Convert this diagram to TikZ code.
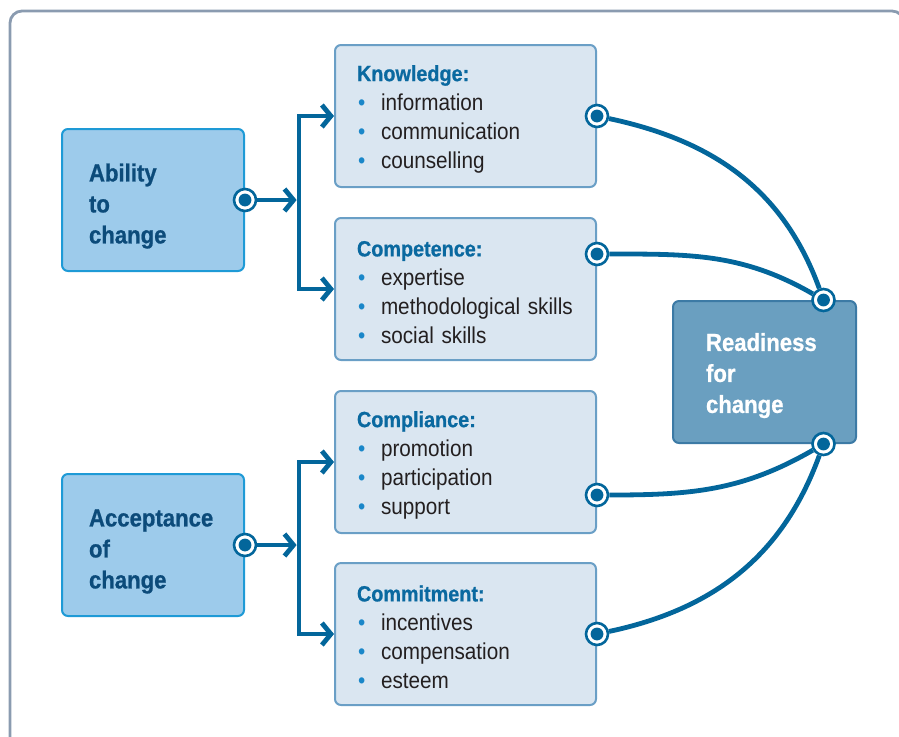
\documentclass[tikz,border=0pt]{standalone}
\usepackage{fontspec}
\setmainfont{Liberation Sans}[FakeStretch=0.9, BoldFeatures={FakeBold=0.8}]
\usetikzlibrary{positioning,arrows.meta}

\definecolor{framec}{RGB}{138,155,176}
\definecolor{linec}{RGB}{3,102,155}
\definecolor{leftfill}{RGB}{157,203,235}
\definecolor{leftdraw}{RGB}{30,154,214}
\definecolor{lefttext}{RGB}{12,75,122}
\definecolor{midfill}{RGB}{218,230,241}
\definecolor{middraw}{RGB}{106,159,198}
\definecolor{readyfill}{RGB}{106,159,192}
\definecolor{readydraw}{RGB}{60,122,165}
\definecolor{titlec}{RGB}{10,105,160}
\definecolor{itemc}{RGB}{35,31,32}
\definecolor{dotc}{RGB}{26,135,201}

\newcommand{\itm}{\makebox[12pt][l]{\hspace{0.5pt}\color{dotc}\textbullet}}
\newcommand{\ttl}[1]{\rule{0pt}{11pt}{\fontsize{11}{14}\selectfont\bfseries\color{titlec}#1}}

\begin{document}
\begin{tikzpicture}[
x=0.5pt, y=-0.5pt,
leftbox/.style={rectangle, draw=leftdraw, fill=leftfill, line width=1pt, rounded corners=3pt, minimum height=71pt, text width=64pt, inner xsep=13.5pt, align=left, text=lefttext, font=\fontsize{12.3}{15.5}\selectfont\bfseries},
midbox/.style={rectangle, draw=middraw, fill=midfill, line width=1pt, rounded corners=3pt, minimum height=71pt, text width=108.5pt, inner xsep=11pt, align=left, text=itemc, font=\fontsize{11.5}{14.5}\selectfont},
readybox/.style={rectangle, draw=readydraw, fill=readyfill, line width=1pt, rounded corners=3pt, minimum height=71pt, text width=58.5pt, inner xsep=16.5pt, align=left, text=white, font=\fontsize{12.3}{15.5}\selectfont\bfseries},
dotnode/.style={circle, draw=linec, fill=white, line width=1.3pt, minimum size=11pt, inner sep=0pt, path picture={\fill[linec] (path picture bounding box.center) circle (3.2pt);}},
conn/.style={draw=linec, line width=2.4pt},
>={Straight Barb[length=4.5pt, width=11pt]},
]
\useasboundingbox (0,0) rectangle (899,736);
\draw[framec, line width=1.4pt, rounded corners=6pt] (10,11) rectangle (904,790);

%Nodes
\node[leftbox] (ability) at (153,200) {\rule{0pt}{15pt}Ability\\to\\change};
\node[leftbox] (acceptance) at (153,545) {\rule{0pt}{15pt}Acceptance\\of\\change};
\node[midbox] (knowledge) at (465.5,116) {\ttl{Knowledge:}\\\itm information\\\itm communication\\\itm counselling};
\node[midbox, below=14.5pt of knowledge] (competence) {\ttl{Competence:}\\\itm expertise\\\itm methodological skills\\\itm social skills};
\node[midbox, below=14.5pt of competence] (compliance) {\ttl{Compliance:}\\\itm promotion\\\itm participation\\\itm support};
\node[midbox, below=14pt of compliance] (commitment) {\ttl{Commitment:}\\\itm incentives\\\itm compensation\\\itm esteem};
\node[readybox] (readiness) at (764.5,372) {\rule{0pt}{12.5pt}Readiness\\for\\change};

\node[dotnode] (abilitydot) at (ability.east) {};
\node[dotnode] (acceptancedot) at (acceptance.east) {};
\node[dotnode] (knowledgedot) at (knowledge.east) {};
\node[dotnode] (competencedot) at ([yshift=17.5pt]competence.east) {};
\node[dotnode] (compliancedot) at ([yshift=-16.5pt]compliance.east) {};
\node[dotnode] (commitmentdot) at (commitment.east) {};
\node[dotnode] (readytop) at ([xshift=29.5pt]readiness.north) {};
\node[dotnode] (readybottom) at ([xshift=29.5pt]readiness.south) {};

\coordinate[right=27pt of abilitydot.center] (abilitysplit);
\coordinate[right=27pt of acceptancedot.center] (acceptancesplit);

%Lines
\draw[conn, ->, shorten >=1.2pt] (abilitydot) -- (abilitysplit);
\draw[conn, ->] (abilitysplit) |- (knowledge.west);
\draw[conn, ->] (abilitysplit) |- (competence.west);
\draw[conn, ->, shorten >=1.2pt] (acceptancedot) -- (acceptancesplit);
\draw[conn, ->] (acceptancesplit) |- (compliance.west);
\draw[conn, ->] (acceptancesplit) |- (commitment.west);

\draw[conn] (knowledgedot) to[out=-12, in=110] (readytop);
\draw[conn] (competencedot) to[out=0, in=150] (readytop);
\draw[conn] (compliancedot) to[out=0, in=-150] (readybottom);
\draw[conn] (commitmentdot) to[out=12, in=-110] (readybottom);

\end{tikzpicture}
\end{document}
